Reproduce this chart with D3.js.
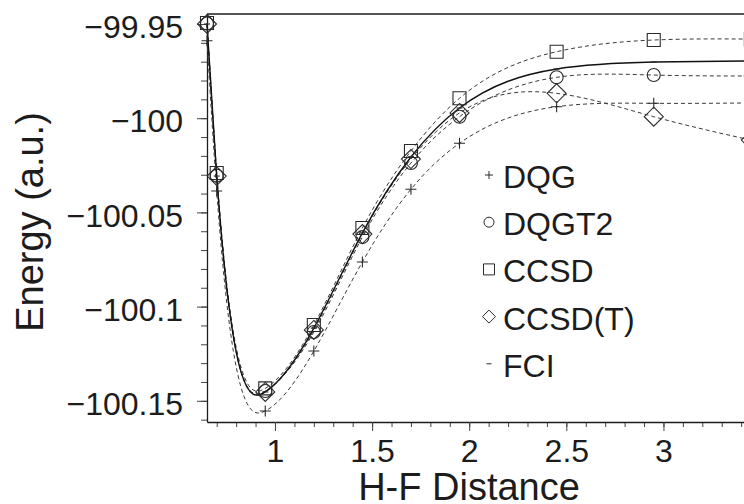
<!DOCTYPE html>
<html>
<head>
<meta charset="utf-8">
<script src="https://cdn.jsdelivr.net/npm/d3@7"></script>
<style>
  body { margin: 0; background: #fff; overflow: hidden; }
  svg { display: block; font-family: "Liberation Sans", Arial, sans-serif; }
</style>
</head>
<body>
<svg width="744" height="504"></svg>
<script>
// H-F distance (x) and the energies of each method (a.u.)
const distance = [0.65, 0.7, 0.95, 1.2, 1.45, 1.7, 1.95, 2.45, 2.95, 3.45];
const dqg   = [-99.9589, -100.0386, -100.1554, -100.1236, -100.0763, -100.0377, -100.0133, -99.9939, -99.9921, -99.9919];
const dqgt2 = [-99.9497, -100.0305, -100.1448, -100.1135, -100.0631, -100.0238, -99.9992, -99.9783, -99.9771, -99.9776];
const ccsd  = [-99.9495, -100.0291, -100.1434, -100.1098, -100.0583, -100.0174, -99.9894, -99.9647, -99.9585, -99.9580];
const ccsdT = [-99.9500, -100.0307, -100.1453, -100.1124, -100.0615, -100.0217, -99.9972, -99.9868, -99.9992, -100.0116];
const fci   = [-99.9500, -100.0307, -100.1453, -100.1114, -100.0609, -100.0206, -99.9946, -99.9739, -99.9702, -99.9696];

const seriesNames = ["DQG", "DQGT2", "CCSD", "CCSD(T)", "FCI"];
const seriesValues = [dqg, dqgt2, ccsd, ccsdT, fci];
const seriesSymbols = ["plus", "circle", "square", "diamond", "dash"];

const xMajorTicks = [1, 1.5, 2, 2.5, 3];
const yMajorTicks = [-100.15, -100.1, -100.05, -100, -99.95];

const svg = d3.select("svg");

// scales
const x = d3.scaleLinear()
    .domain([0.65, 3.6])
    .range([207, 780]);
const y = d3.scaleLinear()
    .domain([-100.16125, -99.94469])
    .range([422, 14]);

const ink = "#1c1c1c";

// natural cubic spline in x, drawn as bezier pieces
function curveNaturalX(context) {
    let xs, ys;
    return {
        areaStart() {}, areaEnd() {},
        lineStart() { xs = []; ys = []; },
        point(px, py) { xs.push(+px); ys.push(+py); },
        lineEnd() {
            const n = xs.length;
            if (!n) return;
            context.moveTo(xs[0], ys[0]);
            if (n < 3) { if (n === 2) context.lineTo(xs[1], ys[1]); return; }
            const h = [], d = [];
            for (let i = 0; i < n - 1; i++) {
                h[i] = xs[i + 1] - xs[i];
                d[i] = (ys[i + 1] - ys[i]) / h[i];
            }
            // tridiagonal solve for second derivatives (natural ends)
            const M = new Array(n).fill(0);
            const a = [], b = [], c = [], r = [];
            for (let i = 1; i < n - 1; i++) {
                a.push(h[i - 1]); b.push(2 * (h[i - 1] + h[i])); c.push(h[i]);
                r.push(6 * (d[i] - d[i - 1]));
            }
            const m = b.length;
            for (let i = 1; i < m; i++) {
                const w = a[i] / b[i - 1];
                b[i] -= w * c[i - 1];
                r[i] -= w * r[i - 1];
            }
            const sol = new Array(m);
            sol[m - 1] = r[m - 1] / b[m - 1];
            for (let i = m - 2; i >= 0; i--) sol[i] = (r[i] - c[i] * sol[i + 1]) / b[i];
            for (let i = 0; i < m; i++) M[i + 1] = sol[i];
            for (let i = 0; i < n - 1; i++) {
                const m0 = d[i] - h[i] * (2 * M[i] + M[i + 1]) / 6;
                const m1 = d[i] + h[i] * (M[i] + 2 * M[i + 1]) / 6;
                context.bezierCurveTo(
                    xs[i] + h[i] / 3, ys[i] + h[i] / 3 * m0,
                    xs[i + 1] - h[i] / 3, ys[i + 1] - h[i] / 3 * m1,
                    xs[i + 1], ys[i + 1]);
            }
        }
    };
}

// Add X axis (minor then major ticks)
svg.append("g")
    .attr("transform", "translate(0,422)")
    .call(d3.axisBottom(x)
        .tickValues(d3.range(7, 36).map(v => v / 10))
        .tickSize(5).tickSizeOuter(0).tickFormat(""))
    .call(g => g.select(".domain").remove())
    .selectAll("line").attr("stroke", "#444");

svg.append("g")
    .attr("transform", "translate(0,422)")
    .call(d3.axisBottom(x)
        .tickValues(xMajorTicks)
        .tickSize(9).tickSizeOuter(0).tickPadding(8)
        .tickFormat(d3.format(".1~f")))
    .call(g => g.select(".domain").attr("stroke", ink).attr("stroke-width", 1.3))
    .call(g => g.selectAll(".tick line").attr("stroke", "#444"))
    .call(g => g.selectAll("text")
        .style("font-size", "32px")
        .style("font-family", "'Liberation Sans', Arial, sans-serif")
        .attr("fill", ink));

// Add Y axis
svg.append("g")
    .attr("transform", "translate(207,0)")
    .call(d3.axisLeft(y)
        .tickValues(d3.range(-10016, -9994).map(v => v / 100))
        .tickSize(6).tickSizeOuter(0).tickFormat(""))
    .call(g => g.select(".domain").remove())
    .selectAll("line").attr("stroke", "#444");

svg.append("g")
    .attr("transform", "translate(207,0)")
    .call(d3.axisLeft(y)
        .tickValues(yMajorTicks)
        .tickSize(10).tickSizeOuter(0).tickPadding(14)
        .tickFormat(d3.format(".2~f")))
    .call(g => g.select(".domain").attr("stroke", ink).attr("stroke-width", 1.3))
    .call(g => g.selectAll(".tick line").attr("stroke", "#444"))
    .call(g => g.selectAll("text")
        .attr("dy", "0.43em")
        .style("font-size", "32px")
        .style("font-family", "'Liberation Sans', Arial, sans-serif")
        .attr("fill", ink));

// top frame line
svg.append("line")
    .attr("x1", x.range()[0]).attr("x2", x.range()[1])
    .attr("y1", y.range()[1]).attr("y2", y.range()[1])
    .attr("stroke", ink)
    .attr("stroke-width", 1.3);

// curves
const line = d3.line()
    .x((d, i) => x(distance[i]))
    .y(d => y(d))
    .curve(curveNaturalX);

svg.append("g")
    .selectAll("path")
    .data(seriesValues)
    .join("path")
    .attr("d", d => line(d))
    .attr("fill", "none")
    .attr("stroke", (d, i) => i === 4 ? "#111" : "#3a3a3a")
    .attr("stroke-width", (d, i) => i === 4 ? 1.4 : 1)
    .attr("stroke-dasharray", (d, i) => i === 4 ? null : "4,3");

// marker shapes
function symbolPath(type, s) {
    if (type === "plus") return `M${-s},0H${s}M0,${-s}V${s}`;
    if (type === "square") return `M${-s},${-s}H${s}V${s}H${-s}Z`;
    if (type === "diamond") return `M0,${-s}L${s},0L0,${s}L${-s},0Z`;
    if (type === "dash") return `M${-s},0H${s}`;
    return `M${s},0A${s},${s} 0 1,1 ${-s},0A${s},${s} 0 1,1 ${s},0Z`;
}
const plotSize = {plus: 5.5, circle: 6.5, square: 6.5, diamond: 9.5, dash: 3};
const legendSize = {plus: 4, circle: 5, square: 5.5, diamond: 6.5, dash: 2.5};

// markers on the data points
seriesValues.forEach((vals, k) => {
    const sym = seriesSymbols[k];
    svg.append("g")
        .selectAll("path")
        .data(vals)
        .join("path")
        .attr("transform", (d, i) => `translate(${x(distance[i])},${y(d)})`)
        .attr("d", symbolPath(sym, plotSize[sym]))
        .attr("fill", "none")
        .attr("stroke", "#2a2a2a")
        .attr("stroke-width", 1.1);
});

// legend
const legend = svg.append("g")
    .selectAll("g")
    .data(seriesNames)
    .join("g")
    .attr("transform", (d, i) => `translate(0,${188 + i * 47.2})`);

legend.append("path")
    .attr("transform", "translate(489,-13)")
    .attr("d", (d, i) => symbolPath(seriesSymbols[i], legendSize[seriesSymbols[i]]))
    .attr("fill", "none")
    .attr("stroke", "#2a2a2a")
    .attr("stroke-width", 1);

legend.append("text")
    .attr("x", 503)
    .attr("y", 0)
    .text(d => d)
    .style("font-size", "32px")
    .attr("fill", ink);

// axis titles
svg.append("text")
    .attr("text-anchor", "middle")
    .attr("x", 469)
    .attr("y", 500)
    .text("H-F Distance")
    .style("font-size", "38px")
    .attr("fill", ink);

svg.append("text")
    .attr("text-anchor", "middle")
    .attr("transform", "translate(43,222)rotate(-90)")
    .text("Energy (a.u.)")
    .style("font-size", "38px")
    .attr("fill", ink);
</script>
</body>
</html>
